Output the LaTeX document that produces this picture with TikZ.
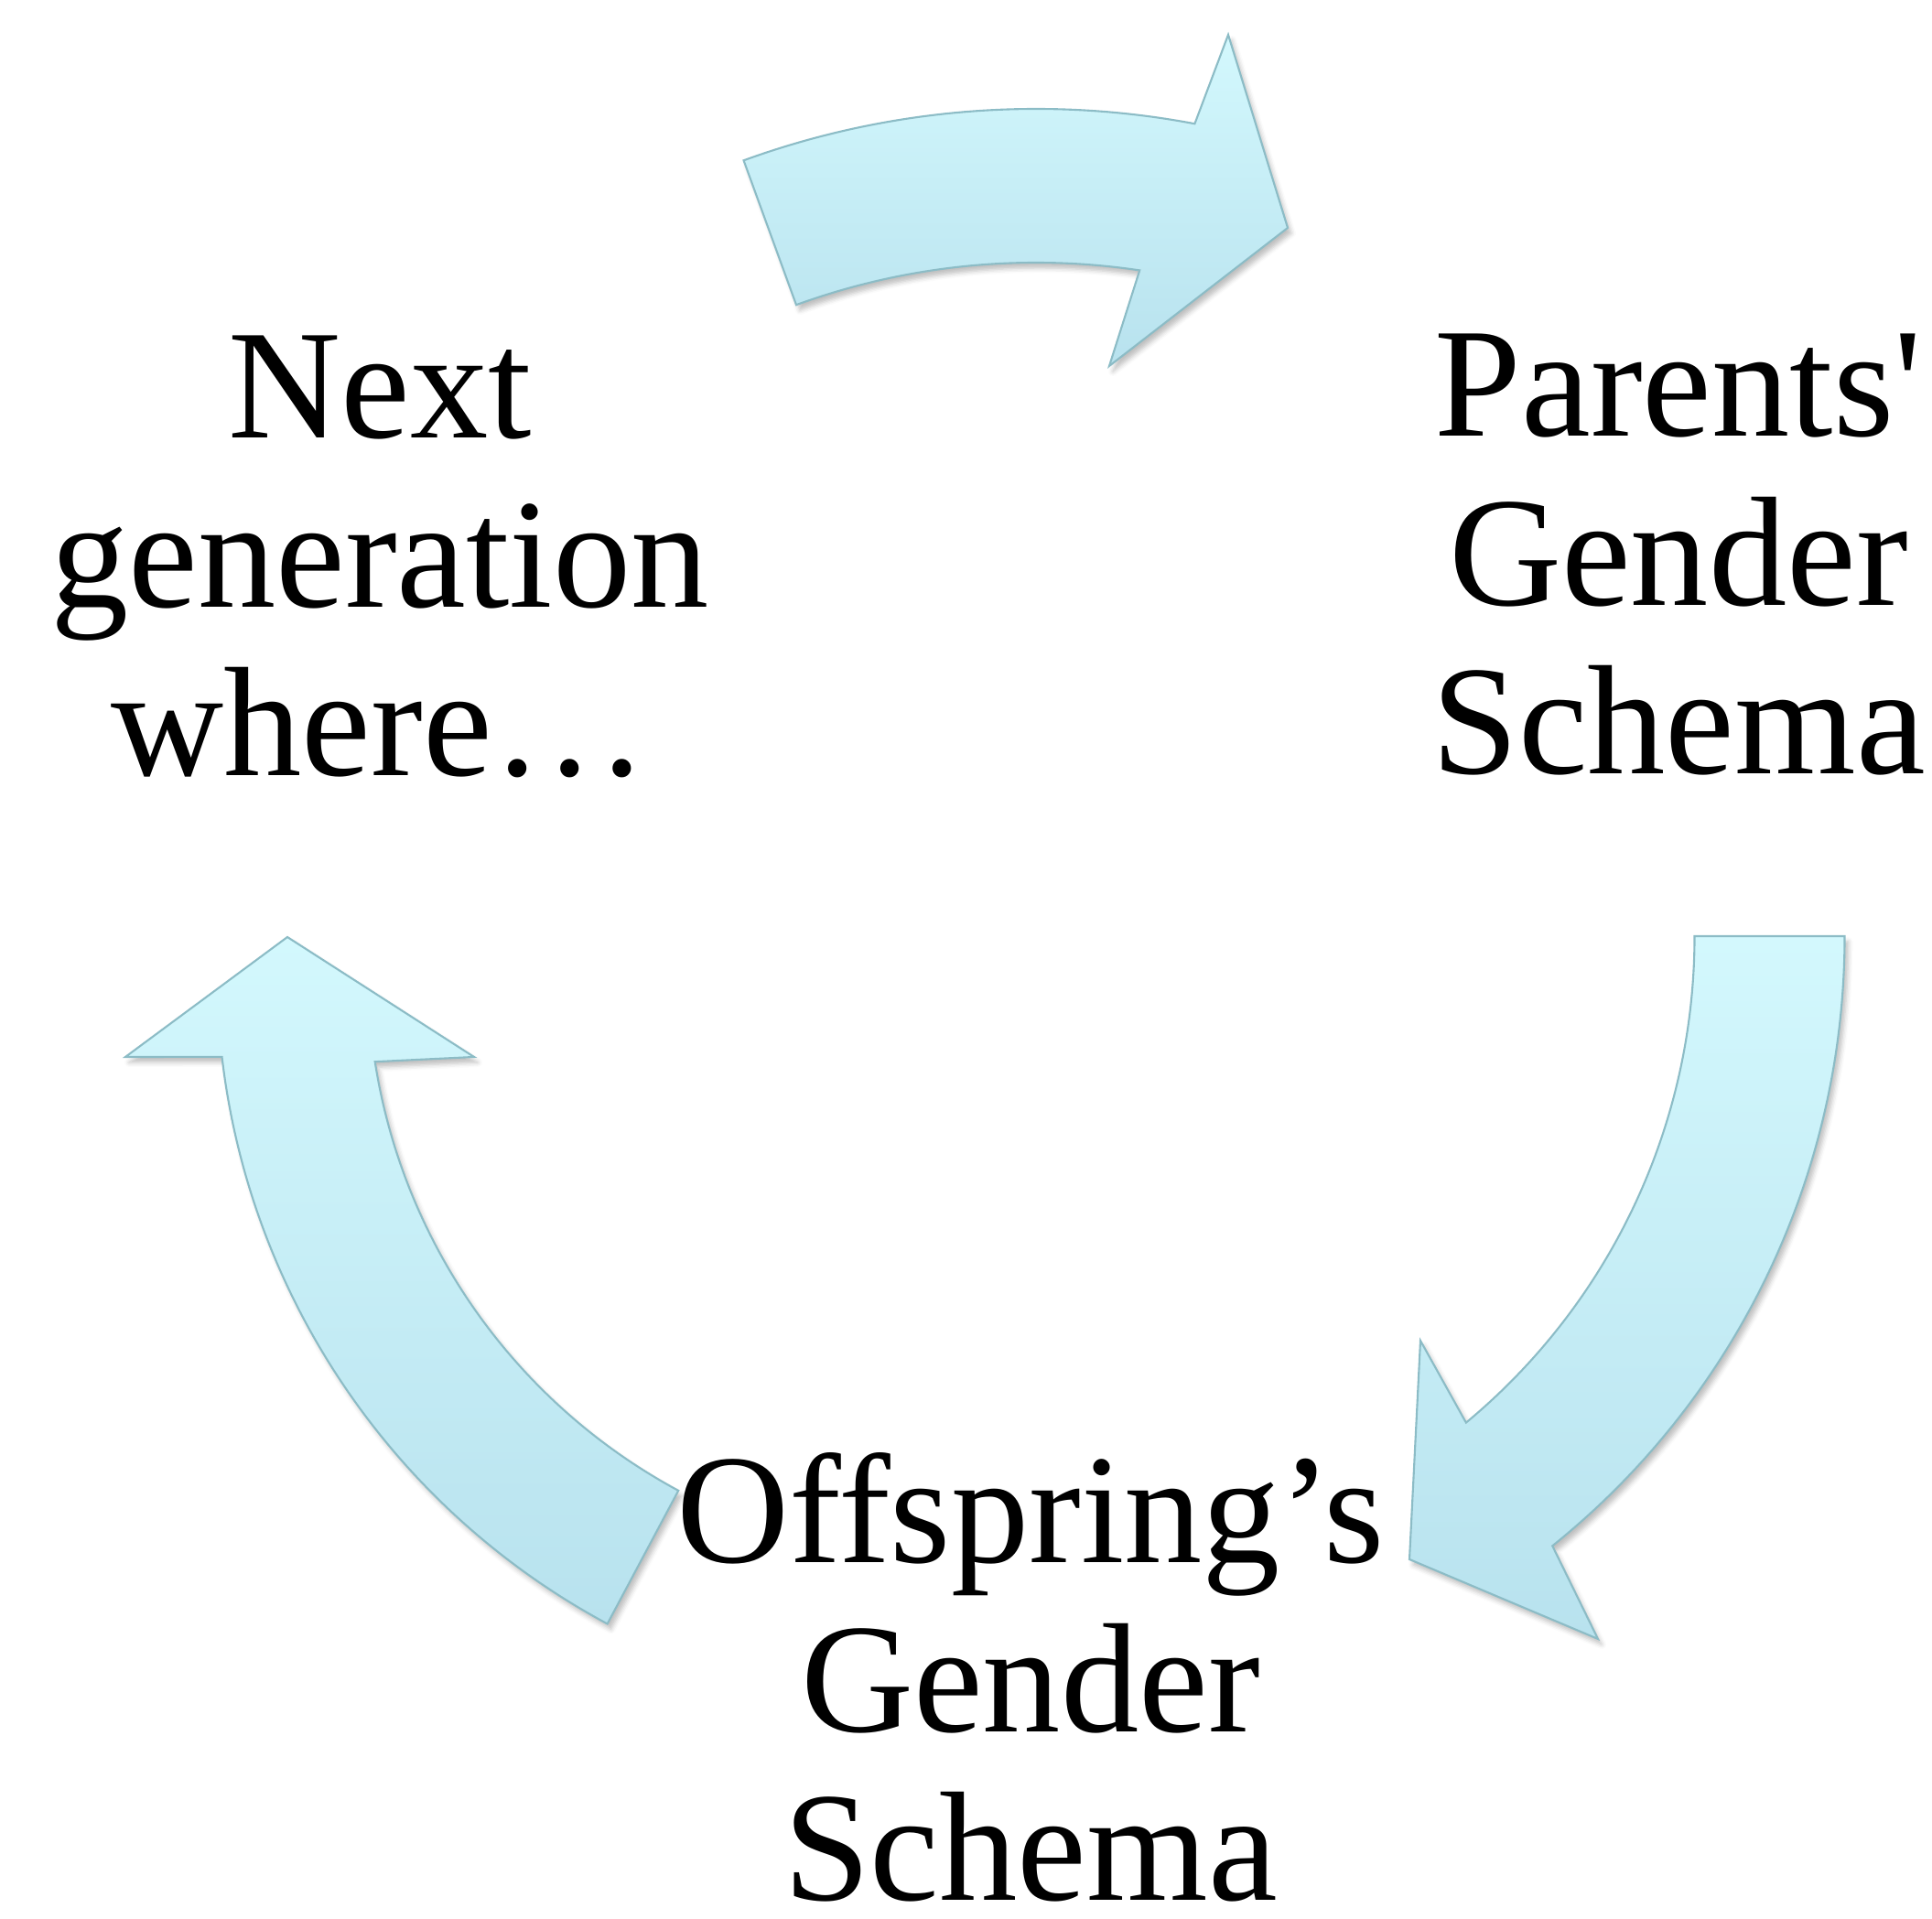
\documentclass[tikz,border=0pt]{standalone}
\usepackage{fontspec}
\setmainfont{Liberation Serif}
\usetikzlibrary{calc, shadows.blur}
\definecolor{arrowtop}{HTML}{D3F8FD}
\definecolor{arrowbot}{HTML}{B8E2EE}
\definecolor{arrowedge}{HTML}{8CBCC6}

\begin{document}
\begin{tikzpicture}[
		cycarrow/.style = {draw = arrowedge, line width = 0.6pt, top color = arrowtop, bottom color = arrowbot,
			blur shadow = {shadow xshift = 0.4mm, shadow yshift = -0.6mm, shadow blur radius = 0.5mm, shadow opacity = 25}},
		cyctext/.style = {align = center, anchor = base, inner sep = 0pt, font = \fontsize{48.5}{52.5}\selectfont}
	]
	\useasboundingbox (0,0) rectangle (21.11,20.97);
	
	% centres of the three arcs
	\coordinate (c1) at (11.32,10.44);
	\coordinate (c2) at (11.605,10.74);
	\coordinate (c3) at (10.47,10.36);
	
	% top arrow
	\draw[cycarrow] ($(c1)+(110:9.34)$) arc[start angle = 110, end angle = 79.3, radius = 9.34]
		-- (13.42,20.59) -- (14.07,18.48) -- (12.12,16.97)
		-- ($(c1)+(81.5:7.66)$) arc[start angle = 81.5, end angle = 110, radius = 7.66] -- cycle;
	
	% right arrow
	\draw[cycarrow] ($(c2)+(0:8.55)$) arc[start angle = 0, end angle = -51.2, radius = 8.55]
		-- (17.46,3.06) -- (15.40,3.93) -- (15.52,6.32)
		-- ($(c2)+(-50.3:6.91)$) arc[start angle = -50.3, end angle = 0, radius = 6.91] -- cycle;
	
	% left arrow
	\draw[cycarrow] ($(c3)+(241.75:8.10)$) arc[start angle = 241.75, end angle = 186.66, radius = 8.10]
		-- (1.37,9.42) -- (3.14,10.73) -- (5.18,9.42)
		-- ($(c3)+(188.85:6.45)$) arc[start angle = 188.85, end angle = 241.7, radius = 6.45] -- cycle;
	
	% base = baseline of the last line
	\node[cyctext] (next) at (4.15,12.49) {Next\\generation\\where…};
	\node[cyctext] (parents) at (18.34,12.51) {Parents\textquotesingle\\Gender\\Schema};
	\node[cyctext] (offspring) at (11.26,0.20) {Offspring’s\\Gender\\Schema};
\end{tikzpicture}
\end{document}
